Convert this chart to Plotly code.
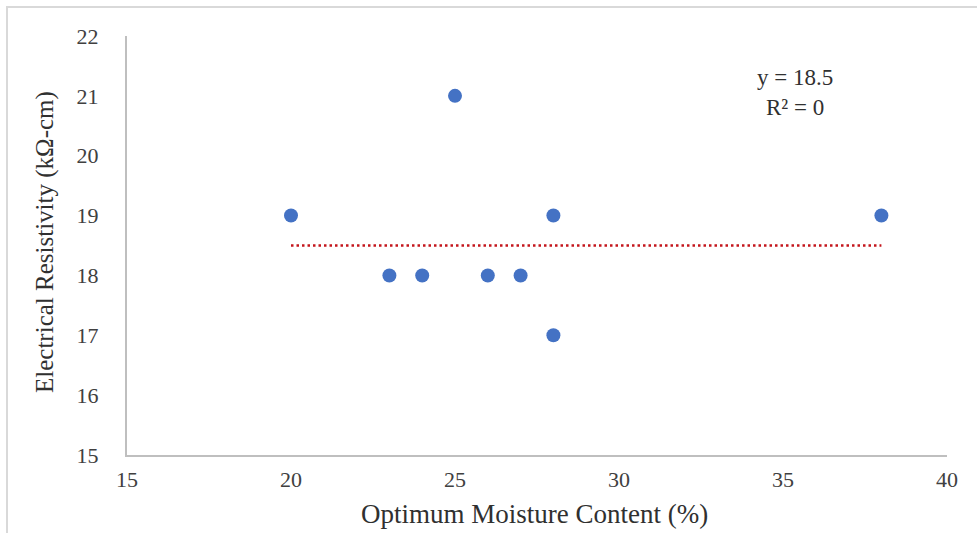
import plotly.graph_objects as go

moisture = [20, 23, 24, 25, 26, 27, 28, 28, 38]
resistivity = [19, 18, 18, 21, 18, 18, 19, 17, 19]
trend_value = 18.5
x_ticks = [15, 20, 25, 30, 35, 40]
y_ticks = [15, 16, 17, 18, 19, 20, 21, 22]

W, H = 977, 533
L, R, T, B = 127, 30, 36, 78
pw, ph = W - L - R, H - T - B

def px(x):
    return (x - L) / pw

def py(y):
    return (H - B - y) / ph

font = "Liberation Serif, Times New Roman, serif"

fig = go.Figure()
fig.add_trace(go.Scatter(
    x=[min(moisture), max(moisture)], y=[trend_value, trend_value],
    mode="lines", line=dict(color="#c4161c", width=2.6, dash="2.5px,3px"),
    showlegend=False, hoverinfo="skip"))
fig.add_trace(go.Scatter(
    x=moisture, y=resistivity, mode="markers",
    marker=dict(color="#4472c4", size=14),
    showlegend=False))

fig.update_layout(
    width=W, height=H,
    margin=dict(l=L, r=R, t=T, b=B),
    paper_bgcolor="white", plot_bgcolor="white",
    font=dict(family=font, color="#404040", size=22),
    xaxis=dict(range=[15, 40], tickvals=x_ticks, showgrid=False, zeroline=False,
               showline=True, linecolor="#bfbfbf", linewidth=2, ticks="",
               ticklabelstandoff=4, tickfont=dict(size=22, color="#404040")),
    yaxis=dict(range=[15, 22], tickvals=y_ticks, showgrid=False, zeroline=False,
               showline=True, linecolor="#bfbfbf", linewidth=2, ticks="",
               ticklabelstandoff=22, tickfont=dict(size=22, color="#404040")),
    shapes=[dict(type="rect", xref="paper", yref="paper",
                 x0=px(7), x1=px(990), y0=py(545), y1=py(7),
                 line=dict(color="#d9d9d9", width=2), fillcolor="rgba(0,0,0,0)",
                 layer="below")],
    annotations=[
        dict(text="Optimum Moisture Content (%)", xref="paper", yref="paper",
             x=px(534), y=py(514), xanchor="center", yanchor="middle",
             showarrow=False, font=dict(size=27, color="#303030")),
        dict(text="Electrical Resistivity (kΩ-cm)", xref="paper", yref="paper",
             x=px(45), y=py(242), xanchor="center", yanchor="middle",
             showarrow=False, textangle=-90,
             font=dict(size=25, color="#303030")),
        dict(text="y = 18.5<br>R² = 0", xref="paper", yref="paper",
             x=px(795), y=py(92), xanchor="center", yanchor="middle",
             showarrow=False, align="center",
             font=dict(size=23, color="#303030")),
    ],
)

fig.write_html("out.html")
